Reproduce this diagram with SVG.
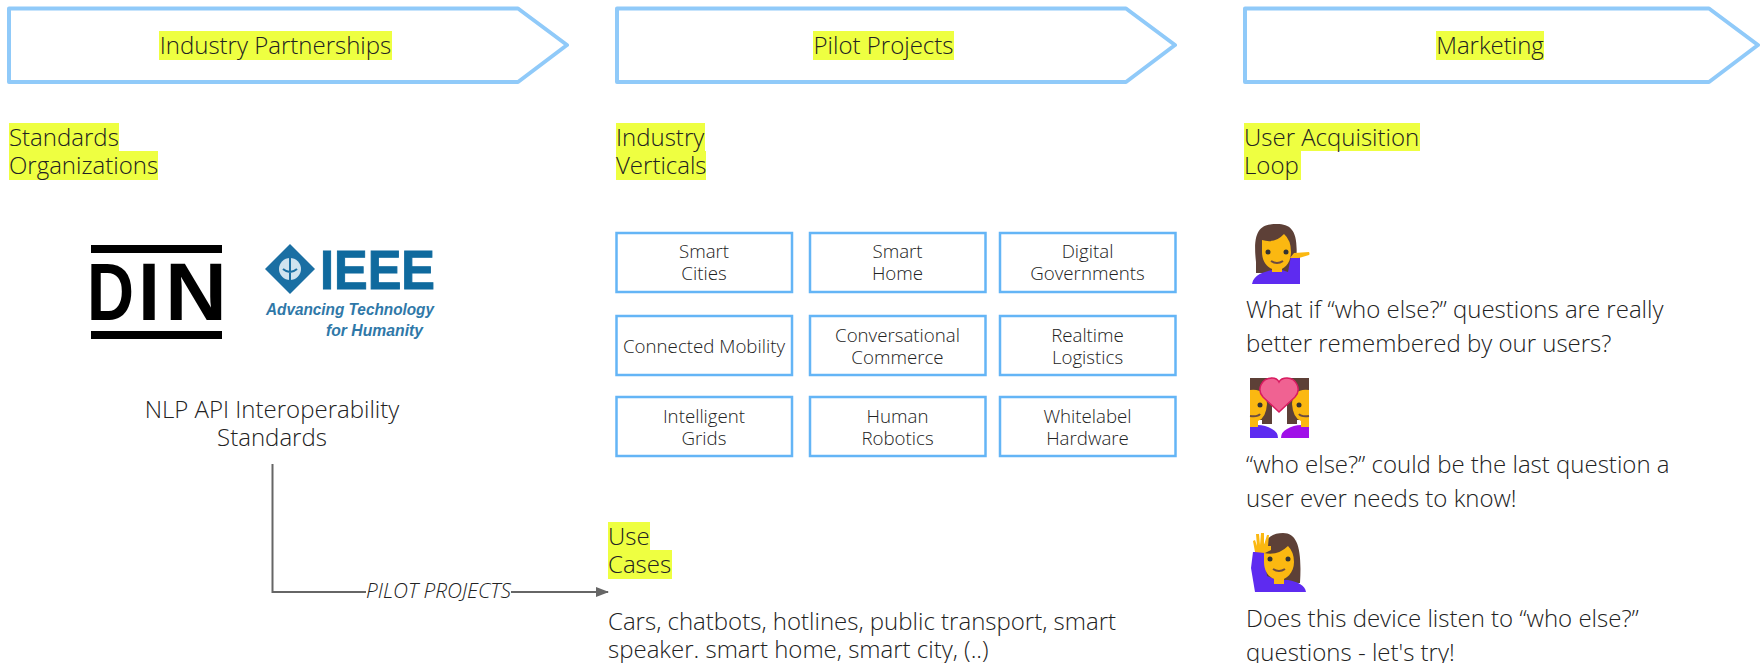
<svg xmlns="http://www.w3.org/2000/svg" width="1760" height="663" viewBox="0 0 1760 663">
<style>
text{font-family:"Open Sans","Noto Sans",sans-serif;font-weight:300;fill:#222}
.h{font-size:24px}
.t{font-size:24px}
.s{font-size:18.7px;text-anchor:middle;fill:#222}
.c{text-anchor:middle}
.hl{fill:#eeff41}
.ar{fill:#fff;stroke:#90caf9;stroke-width:4;stroke-linejoin:round}
.b{fill:#fff;stroke:#64b5f6;stroke-width:2.5}
.w{fill:none;stroke:#666;stroke-width:2}
.ie{font-family:"Liberation Sans",Arial,sans-serif;font-weight:700;fill:#0f6a9e;stroke:#0f6a9e;stroke-width:1}
.ia{font-family:"Liberation Sans",Arial,sans-serif;font-weight:700;font-style:italic;font-size:17px;fill:#2f78a8}
.hair{fill:#5d4037}.skin{fill:#fbb811}.p1{fill:#5e2bf0}.p2{fill:#a010e8}.eye{fill:#333}
</style>
<defs>
<marker id="a" markerWidth="13" markerHeight="10" refX="12" refY="5" orient="auto" markerUnits="userSpaceOnUse"><path d="M0 0L13 5L0 10Z" fill="#666"/></marker>
</defs>
<g id="connectors">
<path class="w" d="M272.500 464V592H366"/>
<path class="w" d="M511 592H608" marker-end="url(#a)"/>
<text x="438.500" y="598" font-size="20.800" text-anchor="middle" style="font-style:italic">PILOT PROJECTS</text>
</g>
<g id="arrow-partnerships"><path class="ar" d="M9 8.500H518L567 45L518 82H9Z"/><rect class="hl" x="159" y="31" width="233" height="29"/><text class="h c" x="275.500" y="54">Industry Partnerships</text></g>
<g id="arrow-pilot"><path class="ar" d="M617 8.500H1126L1175 45L1126 82H617Z"/><rect class="hl" x="813" y="31" width="141" height="29"/><text class="h c" x="883.500" y="54">Pilot Projects</text></g>
<g id="arrow-marketing"><path class="ar" d="M1245 8.500H1709L1758 45L1709 82H1245Z"/><rect class="hl" x="1436" y="31" width="108" height="29"/><text class="h c" x="1490" y="54">Marketing</text></g>
<g id="standards"><rect class="hl" x="9" y="123" width="110" height="28"/><rect class="hl" x="9" y="151" width="149" height="29"/><text class="h" x="9" y="146">Standards</text><text class="h" x="9" y="174">Organizations</text></g>
<g id="verticals"><rect class="hl" x="616" y="123" width="89" height="28"/><rect class="hl" x="616" y="151" width="90" height="29"/><text class="h" x="616" y="146">Industry</text><text class="h" x="616" y="174">Verticals</text></g>
<g id="loop"><rect class="hl" x="1244" y="123" width="176" height="28"/><rect class="hl" x="1244" y="151" width="57" height="29"/><text class="h" x="1244" y="146">User Acquisition</text><text class="h" x="1244" y="174">Loop</text></g>
<g id="din"><rect x="91" y="245" width="131" height="8" fill="#000"/><rect x="91" y="331" width="131" height="8" fill="#000"/><text y="320" font-size="81" style="font-family:'Liberation Sans',sans-serif;font-weight:700;fill:#000"><tspan x="87" textLength="47" lengthAdjust="spacingAndGlyphs">D</tspan><tspan x="138" textLength="22" lengthAdjust="spacingAndGlyphs">I</tspan><tspan x="165" textLength="62" lengthAdjust="spacingAndGlyphs">N</tspan></text></g>
<g id="ieee"><path d="M290 244L315 269L290 294L265 269Z" fill="#1a6fa3"/><circle cx="290" cy="269" r="11" fill="#cfe3ef"/><path d="M290 256V284M283 269q7 6 14 0" fill="none" stroke="#1a6fa3" stroke-width="2"/><text class="ie" x="320" y="289" font-size="56" textLength="115" lengthAdjust="spacingAndGlyphs">IEEE</text><text class="ia" x="266" y="315" textLength="168" lengthAdjust="spacingAndGlyphs">Advancing Technology</text><text class="ia" x="326" y="336" textLength="97" lengthAdjust="spacingAndGlyphs">for Humanity</text></g>
<g id="nlp"><text class="t c" x="272" y="418">NLP API Interoperability</text><text class="t c" x="272" y="446">Standards</text></g>
<g id="box1"><rect class="b" x="616.500" y="233" width="175.500" height="59"/><text class="s" x="704" y="258">Smart</text><text class="s" x="704" y="280">Cities</text></g>
<g id="box2"><rect class="b" x="810" y="233" width="175.500" height="59"/><text class="s" x="897.500" y="258">Smart</text><text class="s" x="897.500" y="280">Home</text></g>
<g id="box3"><rect class="b" x="1000" y="233" width="175.500" height="59"/><text class="s" x="1087.500" y="258">Digital</text><text class="s" x="1087.500" y="280">Governments</text></g>
<g id="box4"><rect class="b" x="616.500" y="316" width="175.500" height="59"/><text class="s" x="704" y="353">Connected Mobility</text></g>
<g id="box5"><rect class="b" x="810" y="316" width="175.500" height="59"/><text class="s" x="897.500" y="342">Conversational</text><text class="s" x="897.500" y="364">Commerce</text></g>
<g id="box6"><rect class="b" x="1000" y="316" width="175.500" height="59"/><text class="s" x="1087.500" y="342">Realtime</text><text class="s" x="1087.500" y="364">Logistics</text></g>
<g id="box7"><rect class="b" x="616.500" y="397" width="175.500" height="59"/><text class="s" x="704" y="423">Intelligent</text><text class="s" x="704" y="445">Grids</text></g>
<g id="box8"><rect class="b" x="810" y="397" width="175.500" height="59"/><text class="s" x="897.500" y="423">Human</text><text class="s" x="897.500" y="445">Robotics</text></g>
<g id="box9"><rect class="b" x="1000" y="397" width="175.500" height="59"/><text class="s" x="1087.500" y="423">Whitelabel</text><text class="s" x="1087.500" y="445">Hardware</text></g>
<g id="usecases"><rect class="hl" x="608" y="522" width="42" height="28"/><rect class="hl" x="608" y="550" width="64" height="29"/><text class="h" x="608" y="545">Use</text><text class="h" x="608" y="573">Cases</text><text class="t" x="608" y="630">Cars, chatbots, hotlines, public transport, smart</text><text class="t" x="608" y="658">speaker. smart home, smart city, (..)</text></g>
<g id="emoji1"><path class="hair" d="M1256 262C1252 228 1262 224 1277 224C1292 224 1299 232 1296 262L1296 273H1256Z"/><path class="p1" d="M1252 284C1254 274 1264 272 1272 270H1282L1288 272L1291 256H1300V284Z"/><rect class="skin" x="1272" y="262" width="10" height="10"/><path class="skin" d="M1262 240Q1275 244 1284 234Q1291 240 1291 252C1291 263 1284 270 1277 270C1269 270 1262 263 1262 252Z"/><path class="skin" d="M1290 258L1294 253L1309 252Q1310 254 1309 255L1299 258Z"/><circle class="eye" cx="1268" cy="252" r="2.500"/><circle class="eye" cx="1286" cy="252" r="2.500"/><path d="M1271 261Q1277 265 1283 261" fill="none" stroke="#6d4c41" stroke-width="2"/></g>
<g id="emoji2"><path class="hair" d="M1250 378H1272V424H1262V420H1250Z"/><path class="hair" d="M1309 378H1287V424H1297V420H1309Z"/><path class="p1" d="M1250 438V426Q1262 423 1272 429Q1278 432 1278 438Z"/><path class="p2" d="M1309 438V426Q1297 423 1287 429Q1281 432 1281 438Z"/><path class="skin" d="M1250 390Q1266 388 1267 404Q1266 418 1258 421V427H1250Z"/><path class="skin" d="M1309 390Q1293 388 1292 404Q1293 418 1301 421V427H1309Z"/><circle class="eye" cx="1260" cy="405" r="2.500"/><circle class="eye" cx="1299" cy="405" r="2.500"/><path d="M1250 416Q1258 417 1260 414" fill="none" stroke="#6d4c41" stroke-width="2"/><path d="M1309 416Q1301 417 1299 414" fill="none" stroke="#6d4c41" stroke-width="2"/><path d="M1279 412L1263 397C1256 389 1262 378 1272 378C1276 378 1278 380 1279 382C1280 380 1283 378 1287 378C1296 378 1302 389 1295 397Z" fill="#f06292" stroke="#d81b60" stroke-width="1.500"/></g>
<g id="emoji3"><path class="hair" d="M1263 565C1260 538 1272 533 1283 533C1298 533 1302 550 1300 583H1263Z"/><path class="p1" d="M1253 552L1264 552L1267 576L1277 580H1288C1298 582 1305 585 1306 592H1255L1251 568Z"/><rect class="skin" x="1274" y="575" width="10" height="9"/><path class="skin" d="M1264 553Q1278 556 1288 546Q1294 552 1294 562C1294 573 1286 580 1279 580C1271 580 1264 573 1264 562Z"/><path class="skin" d="M1255 552L1253 541L1255 540L1257 546L1256 534H1259L1260 545L1261 533H1264L1264 545L1267 535H1269L1268 546L1271 546L1271 550L1265 553Z"/><circle class="eye" cx="1270" cy="559" r="2.500"/><circle class="eye" cx="1288" cy="559" r="2.500"/><path d="M1273 569Q1279 573 1285 569" fill="none" stroke="#6d4c41" stroke-width="2"/></g>
<g id="q1"><text class="t" x="1246" y="318">What if “who else?” questions are really</text><text class="t" x="1246" y="352">better remembered by our users?</text></g>
<g id="q2"><text class="t" x="1246" y="473">“who else?” could be the last question a</text><text class="t" x="1246" y="507">user ever needs to know!</text></g>
<g id="q3"><text class="t" x="1246" y="627">Does this device listen to “who else?”</text><text class="t" x="1246" y="661">questions - let's try!</text></g>
</svg>
